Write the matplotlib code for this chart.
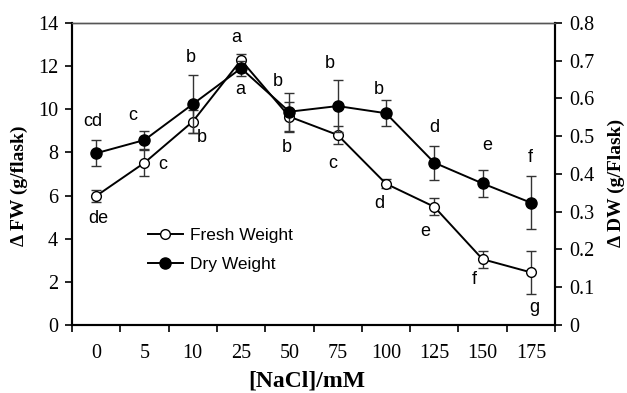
import matplotlib
matplotlib.use("Agg")
import matplotlib.pyplot as plt
import numpy as np

categories = ["0", "5", "10", "25", "50", "75", "100", "125", "150", "175"]
fw = [5.98, 7.52, 9.43, 12.28, 9.66, 8.81, 6.55, 5.48, 3.05, 2.44]
fw_err = [0.3, 0.6, 0.55, 0.3, 0.7, 0.4, 0.2, 0.4, 0.4, 1.0]
dw = [0.455, 0.49, 0.585, 0.68, 0.565, 0.58, 0.561, 0.43, 0.375, 0.324]
dw_err = [0.035, 0.025, 0.077, 0.02, 0.05, 0.07, 0.035, 0.045, 0.035, 0.071]
fw_letters = ["de", "c", "b", "a", "b", "c", "d", "e", "f", "g"]
dw_letters = ["cd", "c", "b", "a", "b", "b", "b", "d", "e", "f"]

# label positions in pixel coordinates of the reference (x, y)
fw_letter_px = [(98, 218), (163, 164), (202, 138), (240, 90), (287, 147),
                (333, 163), (379, 203), (425, 232), (474, 280), (534, 307)]
dw_letter_px = [(93, 122), (133, 116), (191, 57), (236, 37), (278, 82),
                (330, 63), (379, 90), (434, 128), (487, 146), (530, 157)]

W, H = 627, 393
fig = plt.figure(figsize=(W / 100, H / 100), dpi=100)
L, R, T, B = 72, 555, 23, 325
ax = fig.add_axes([L / W, 1 - B / H, (R - L) / W, (B - T) / H])
ax2 = ax.twinx()

x = np.arange(len(categories))
serif = "Liberation Serif"
sans = "Liberation Sans"

ax.errorbar(x, fw, yerr=fw_err, fmt="none", ecolor="#333333", elinewidth=1.0,
            capsize=3.5, capthick=1.0, zorder=2)
ax.plot(x, fw, "-o", color="black", mfc="white", mec="black", ms=7, mew=1.0,
        lw=1.4, label="Fresh Weight", zorder=3)
ax2.errorbar(x, dw, yerr=dw_err, fmt="none", ecolor="#333333", elinewidth=1.0,
             capsize=3.5, capthick=1.0, zorder=2)
ax2.plot(x, dw, "-o", color="black", mfc="black", mec="black", ms=8, mew=1.0,
         lw=1.4, label="Dry Weight", zorder=3)

ax.set_xlim(-0.5, len(categories) - 0.5)
ax.set_ylim(0, 14)
ax2.set_ylim(0, 0.8)

ax.set_xticks(x)
ax.set_xticklabels(categories)
ax.set_xticks(np.arange(-0.5, len(categories)), minor=True)
ax.tick_params(axis="x", which="major", length=0, pad=14, labelsize=14.5)
ax.tick_params(axis="x", which="minor", length=5, width=1.2, direction="out")
ax.set_yticks(np.arange(0, 15, 2))
ax.tick_params(axis="y", length=5, width=1.2, direction="out", labelsize=14.5, pad=5)
ax2.set_yticks(np.arange(0, 0.81, 0.1))
ax2.set_yticklabels(["0"] + [f"{v:.1f}" for v in np.arange(0.1, 0.81, 0.1)])
ax2.tick_params(axis="y", length=5, width=1.2, direction="out", labelsize=14.5, pad=5)
for a in (ax, ax2):
    for lab in a.get_xticklabels() + a.get_yticklabels():
        lab.set_fontfamily(serif)

for a in (ax, ax2):
    a.spines["top"].set_color("#555555")
    a.spines["top"].set_linewidth(1.0)
    a.spines["left"].set_linewidth(1.5)
    a.spines["right"].set_linewidth(1.5)
    a.spines["bottom"].set_linewidth(1.5)

ax.set_xlabel("[NaCl]/mM", fontfamily=serif, fontweight="bold", fontsize=17, va="center")
ax.xaxis.set_label_coords(0.487, -0.185)
ax.set_ylabel("Δ FW (g/flask)", fontfamily=serif, fontweight="bold", fontsize=14, va="center")
ax.yaxis.set_label_coords(-0.11, 0.46)
ax2.set_ylabel("Δ DW (g/Flask)", fontfamily=serif, fontweight="bold", fontsize=14,
               rotation=90, va="center")
ax2.yaxis.set_label_coords(1.128, 0.47)

def px_to_data(px, py):
    xd = -0.5 + (px - L) / (R - L) * len(categories)
    yd = (B - py) / (B - T) * 14
    return xd, yd

for lab, (px, py) in zip(fw_letters, fw_letter_px):
    xd, yd = px_to_data(px, py)
    ax.text(xd, yd, lab, ha="center", va="center", fontfamily=sans, fontsize=13)
for lab, (px, py) in zip(dw_letters, dw_letter_px):
    xd, yd = px_to_data(px, py)
    ax.text(xd, yd, lab, ha="center", va="center", fontfamily=sans, fontsize=13)

h1, l1 = ax.get_legend_handles_labels()
h2, l2 = ax2.get_legend_handles_labels()
leg = ax.legend(h1 + h2, l1 + l2, loc="upper left",
                bbox_to_anchor=((148 - L) / (R - L), (B - 228) / (B - T)),
                frameon=False, prop={"family": sans, "size": 12.5},
                handlelength=2.0, handletextpad=0.4, labelspacing=0.8,
                borderaxespad=0, borderpad=0)

fig.savefig("out.png", dpi=100)
